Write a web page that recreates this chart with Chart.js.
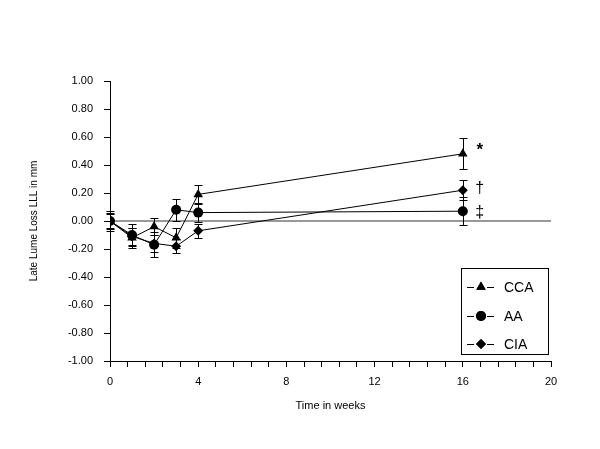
<!DOCTYPE html>
<html>
<head>
<meta charset="utf-8">
<script src="https://cdn.jsdelivr.net/npm/chart.js@4.4.0/dist/chart.umd.min.js"></script>
<style>
  html,body{margin:0;padding:0;background:#fff;}
  #wrap{width:600px;height:449px;}
</style>
</head>
<body>
<div id="wrap"><canvas id="chart" width="600" height="449"></canvas></div>
<script>
// --- Data ---
const weeks = [0, 1, 2, 3, 4, 16];
const seriesNames = ['CCA', 'AA', 'CIA'];
const ccaValues = [0, -0.12, -0.04, -0.12, 0.19, 0.48];
const ccaErrors = [0.07, 0.07, 0.06, 0.07, 0.07, 0.11];
const aaValues  = [0, -0.10, -0.17, 0.08, 0.06, 0.07];
const aaErrors  = [0.06, 0.08, 0.09, 0.08, 0.07, 0.10];
const ciaValues = [0, -0.11, -0.16, -0.18, -0.07, 0.22];
const ciaErrors = [0.05, 0.06, 0.06, 0.05, 0.05, 0.07];
const sigMarks  = ['*', '\u2021', '\u2020']; // CCA, AA, CIA
const xTicks = [0,0.8,1.6,2.4,3.2,4,4.8,5.6,6.4,7.2,8,8.8,9.6,10.4,11.2,12,12.8,13.6,14.4,15.2,16,16.8,17.6,18.4,19.2,20];
const xTickLabels = [0, 4, 8, 12, 16, 20];

const FONT = 'Liberation Sans, Arial, sans-serif';
const markers = ['triangle', 'circle', 'rectRot'];
const markerSize = [5.5, 5, 5];
const allValues = [ccaValues, aaValues, ciaValues];
const allErrors = [ccaErrors, aaErrors, ciaErrors];

function toPoints(vals){ return weeks.map((w,i)=>({x:w, y:vals[i]})); }

const datasets = seriesNames.map((n,k)=>({
  label: n,
  data: toPoints(allValues[k]),
  showLine: true,
  borderColor: '#000',
  borderWidth: 1,
  backgroundColor: '#000',
  pointStyle: markers[k],
  pointRadius: markerSize[k],
  pointBorderWidth: 0,
  pointBackgroundColor: '#000'
}));

// --- zero line, error bars, significance marks, legend ---
const extras = {
  id: 'extras',
  beforeDatasetsDraw(chart){
    const ctx = chart.ctx, xs = chart.scales.x, ys = chart.scales.y;
    ctx.save();
    // reference line at 0
    ctx.strokeStyle = '#999';
    ctx.lineWidth = 2;
    ctx.beginPath();
    ctx.moveTo(xs.left, ys.getPixelForValue(0));
    ctx.lineTo(xs.right, ys.getPixelForValue(0));
    ctx.stroke();
    // error bars
    ctx.strokeStyle = '#000';
    ctx.lineWidth = 1;
    allValues.forEach((vals,k)=>{
      vals.forEach((v,i)=>{
        const px = Math.round(xs.getPixelForValue(weeks[i])) + 0.5;
        const top = Math.round(ys.getPixelForValue(v + allErrors[k][i])) + 0.5;
        const bot = Math.round(ys.getPixelForValue(v - allErrors[k][i])) + 0.5;
        ctx.beginPath();
        ctx.moveTo(px, top); ctx.lineTo(px, bot);
        ctx.moveTo(px-4, top); ctx.lineTo(px+4, top);
        ctx.moveTo(px-4, bot); ctx.lineTo(px+4, bot);
        ctx.stroke();
      });
    });
    ctx.restore();
  },
  afterDatasetsDraw(chart){
    const ctx = chart.ctx, xs = chart.scales.x, ys = chart.scales.y;
    ctx.save();
    // significance marks next to the last points
    const last = weeks.length - 1;
    ctx.fillStyle = '#000';
    ctx.textAlign = 'center';
    ctx.textBaseline = 'middle';
    const dy = [-3, 1, -2];
    sigMarks.forEach((m,k)=>{
      ctx.font = (k===0 ? 'bold 17px ' : '16px ') + FONT;
      ctx.fillText(m, xs.getPixelForValue(weeks[last]) + 17, ys.getPixelForValue(allValues[k][last]) + dy[k]);
    });
    // legend box
    const bx = 461.5, by = 268.5, bw = 87, bh = 86;
    ctx.strokeStyle = '#000';
    ctx.lineWidth = 1;
    ctx.strokeRect(bx, by, bw, bh);
    ctx.textAlign = 'left';
    ctx.font = '14px ' + FONT;
    const rowY = [287, 316, 344];
    seriesNames.forEach((n,k)=>{
      const y = rowY[k] + 0.5;
      ctx.beginPath();
      ctx.moveTo(467, y); ctx.lineTo(474, y);
      ctx.moveTo(487, y); ctx.lineTo(494, y);
      ctx.stroke();
      Chart.helpers.drawPoint(ctx, {pointStyle: markers[k], radius: markerSize[k], borderWidth: 0}, 481, rowY[k]);
      ctx.fill();
      ctx.fillText(n, 504, rowY[k] + 1);
    });
    ctx.restore();
  }
};

new Chart(document.getElementById('chart'), {
  type: 'scatter',
  data: { datasets },
  plugins: [extras],
  options: {
    responsive: false,
    animation: false,
    layout: { padding: { top: 81, right: 49, bottom: 32, left: 0 } },
    plugins: { legend: { display: false }, tooltip: { enabled: false } },
    scales: {
      x: {
        type: 'linear', min: 0, max: 20,
        afterBuildTicks: s => { s.ticks = xTicks.map(v=>({value:v})); },
        afterFit: s => { s.height = 56; },
        grid: { drawOnChartArea: false, drawTicks: true, tickLength: 6, color: '#000' },
        border: { display: true, color: '#000', width: 1 },
        ticks: {
          autoSkip: false, maxRotation: 0, padding: 8,
          color: '#000', font: { family: FONT, size: 11 },
          callback: v => xTickLabels.some(t=>Math.abs(t-v)<1e-6) ? String(Math.round(v)) : ''
        },
        title: { display: true, text: 'Time in weeks', color: '#000', font: { family: FONT, size: 11 }, padding: { top: 0 } }
      },
      y: {
        type: 'linear', min: -1, max: 1,
        afterFit: s => { s.width = 110; },
        grid: { drawOnChartArea: false, drawTicks: true, tickLength: 6, color: '#000' },
        border: { display: true, color: '#000', width: 1 },
        ticks: {
          stepSize: 0.2, padding: 11,
          color: '#000', font: { family: FONT, size: 11 },
          callback: v => (Math.abs(v) < 1e-9 ? 0 : v).toFixed(2)
        },
        title: { display: true, text: 'Late Lume Loss LLL in mm', color: '#000', font: { family: FONT, size: 10 }, padding: { top: 28, bottom: 0 } }
      }
    }
  }
});
</script>
</body>
</html>
